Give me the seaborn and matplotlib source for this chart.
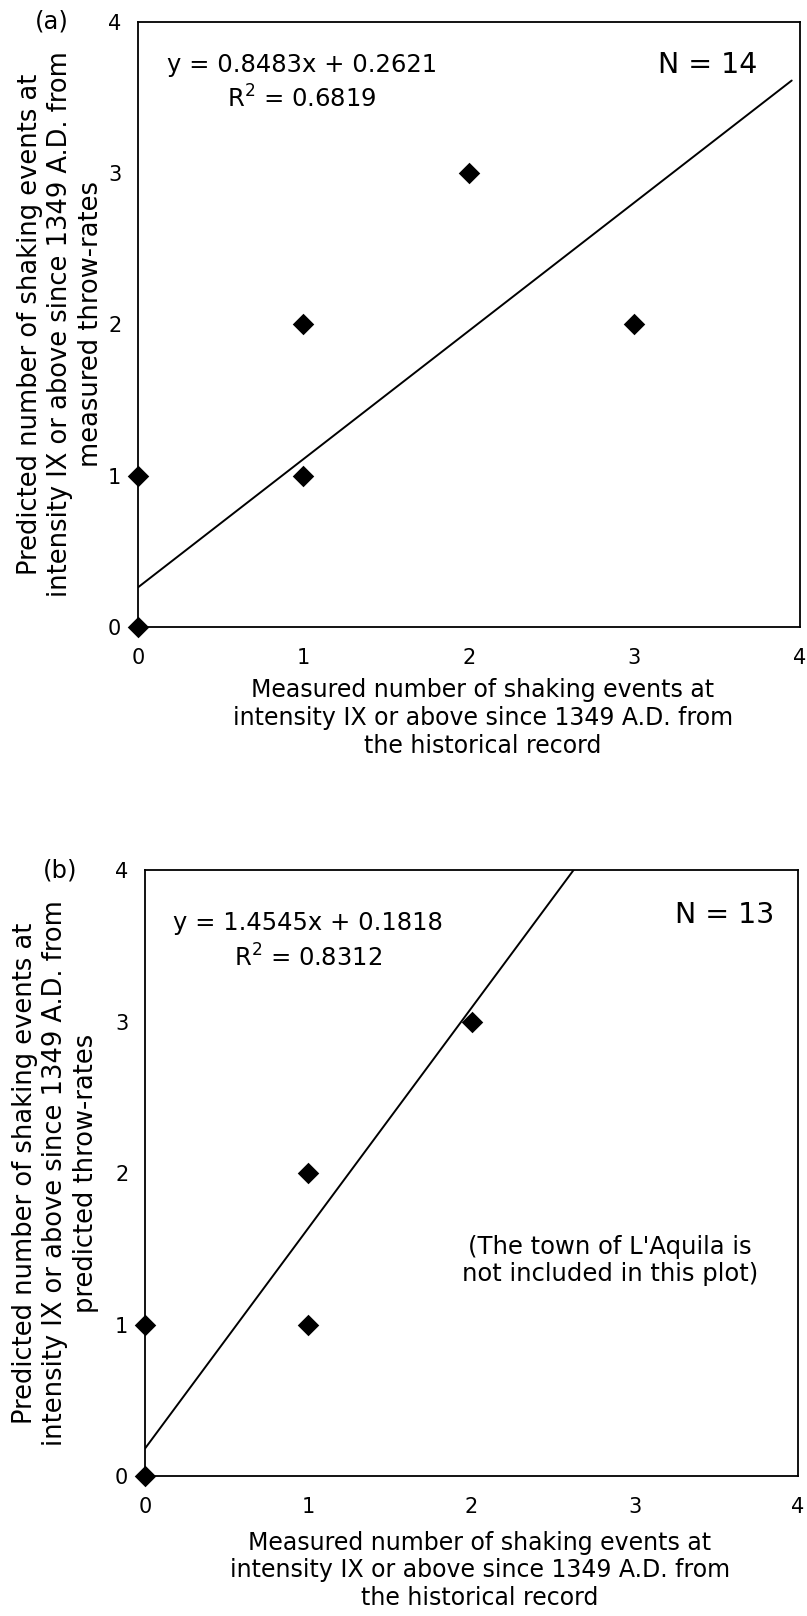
import matplotlib
matplotlib.use("Agg")
import matplotlib.pyplot as plt
import seaborn as sns

# panel (a): predicted from measured throw-rates
a_measured = [0, 0, 1, 1, 2, 3]
a_predicted = [0, 1, 1, 2, 3, 2]
a_slope, a_intercept, a_r2, a_n = 0.8483, 0.2621, 0.6819, 14
a_fit_x = [0, 3.95]

# panel (b): predicted from predicted throw-rates (L'Aquila left out)
b_measured = [0, 0, 1, 1, 2]
b_predicted = [0, 1, 1, 2, 3]
b_slope, b_intercept, b_r2, b_n = 1.4545, 0.1818, 0.8312, 13
b_fit_x = [0, 4]

tick_values = [0, 1, 2, 3, 4]

xlabel = ("Measured number of shaking events at\n"
          "intensity IX or above since 1349 A.D. from\n"
          "the historical record")
ylabel_a = ("Predicted number of shaking events at\n"
            "intensity IX or above since 1349 A.D. from\n"
            "measured throw-rates")
ylabel_b = ("Predicted number of shaking events at\n"
            "intensity IX or above since 1349 A.D. from\n"
            "predicted throw-rates")

sns.set_style("white")
plt.rcParams['font.family'] = ['DejaVu Sans']
plt.rcParams.update({'text.color': 'black', 'axes.labelcolor': 'black',
                     'xtick.color': 'black', 'ytick.color': 'black'})


def draw_panel(ax, xs, ys, slope, intercept, r2, n, fit_x, ylabel, tag,
               eq_pos, n_pos, xlab_pos, ylab_x):
    sns.scatterplot(x=xs, y=ys, marker='D', s=120, color='black',
                    linewidth=0, ax=ax, zorder=3)
    for c in ax.collections:
        c.set_clip_on(False)
    fit_y = [slope * x + intercept for x in fit_x]
    sns.lineplot(x=fit_x, y=fit_y, color='black', linewidth=1.4, ax=ax)

    ax.set_xlim(0, 4)
    ax.set_ylim(0, 4)
    ax.set_xticks(tick_values)
    ax.set_yticks(tick_values)
    ax.tick_params(axis='both', direction='out', length=4, width=1,
                   color='black')
    ax.tick_params(axis='x', pad=11)
    ax.tick_params(axis='y', pad=8)
    plt.setp(ax.get_xticklabels() + ax.get_yticklabels(), fontsize=15)
    for sp in ax.spines.values():
        sp.set_color('black')
        sp.set_linewidth(1.3)

    ax.set_xlabel(xlabel, fontsize=17, linespacing=1.2)
    ax.xaxis.set_label_coords(*xlab_pos)
    ax.set_ylabel(ylabel, fontsize=18.5, linespacing=1.21)
    ax.yaxis.set_label_coords(ylab_x, 0.5)

    ax.text(eq_pos[0], eq_pos[1], f"y = {slope:.4f}x + {intercept:.4f}",
            transform=ax.transAxes, ha='center', va='center', fontsize=17.5)
    ax.text(eq_pos[0], eq_pos[2], f"R$^2$ = {r2:.4f}",
            transform=ax.transAxes, ha='center', va='center', fontsize=17.5)
    ax.text(n_pos[0], n_pos[1], f"N = {n}", transform=ax.transAxes,
            ha='center', va='center', fontsize=20.5)
    ax.text(-0.13, 1.0, tag, transform=ax.transAxes, ha='center',
            va='center', fontsize=17.5)


fig = plt.figure(figsize=(8.07, 16.16), dpi=100)
ax_a = fig.add_axes([0.1710, 0.6120, 0.8203, 0.3744])
ax_b = fig.add_axes([0.1797, 0.0866, 0.8092, 0.3750])

draw_panel(ax_a, a_measured, a_predicted, a_slope, a_intercept, a_r2, a_n,
           a_fit_x, ylabel_a, "(a)", (0.248, 0.929, 0.873), (0.861, 0.929),
           (0.521, -0.085), -0.052)
draw_panel(ax_b, b_measured, b_predicted, b_slope, b_intercept, b_r2, b_n,
           b_fit_x, ylabel_b, "(b)", (0.249, 0.9125, 0.855), (0.888, 0.926),
           (0.513, -0.090), -0.071)

ax_b.text(0.712, 0.355, "(The town of L'Aquila is\nnot included in this plot)",
          transform=ax_b.transAxes, ha='center', va='center', fontsize=17.5,
          linespacing=1.15)

fig.savefig("out.png", dpi=100)
